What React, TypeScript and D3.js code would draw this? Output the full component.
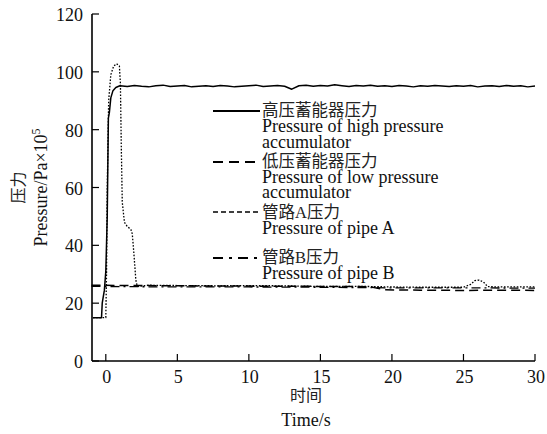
import * as d3 from 'd3'

const W = 547
const H = 434
const MARGIN = { left: 92, right: 12, top: 14, bottom: 73 }
const SERIF = "'Liberation Serif', 'Noto Sans CJK SC', serif"

const X_TICKS = [0, 5, 10, 15, 20, 25, 30]
const Y_TICKS = [0, 20, 40, 60, 80, 100, 120]

// high pressure accumulator: start-up part, then the flat noisy tail
const highTime = [-0.9, -0.3, -0.25, -0.1, 0, 0.1, 0.18, 0.25, 0.35, 0.5, 0.7, 0.9, 1.0]
const highValue = [15, 15, 20, 24.5, 31, 50, 84, 86, 91, 93.5, 94.6, 95, 95.2]
const highTailTime = d3.range(1.5, 30.01, 0.5)
const highTailValue = [
  94.9, 95.3, 95.0, 94.8, 95.2, 95.4, 94.9, 95.1, 95.3, 94.8,
  95.0, 95.2, 94.9, 95.3, 95.1, 94.8, 95.0, 95.2, 95.4, 94.9,
  95.1, 95.3, 95.0, 94.0, 95.2, 95.4, 95.0, 95.3, 95.1, 95.5,
  95.2, 94.9, 95.3, 95.1, 95.4, 95.0, 95.2, 94.9, 95.3, 95.1,
  94.8, 95.2, 95.0, 95.3, 95.1, 94.9, 95.2, 95.0, 95.3, 94.8,
  95.1, 95.2, 94.9, 95.3, 95.0, 95.2, 94.8, 95.1,
]

const lowTime = [-1, 5, 10, 15, 18.5, 19.5, 22, 25, 28, 30]
const lowValue = [26.2, 26, 25.9, 25.8, 25.7, 24.6, 24.5, 24.4, 24.5, 24.4]

const pipeATime = [
  -0.9, 0.0, 0.05, 0.1, 0.2, 0.35, 0.55, 0.75, 0.95, 1.02,
  1.08, 1.15, 1.3, 1.5, 1.75, 1.85, 1.95, 2.1, 2.2, 3,
  5, 8, 10, 12, 15, 18, 20, 22, 25, 25.5,
  25.8, 26.1, 26.4, 26.7, 28, 30,
]
const pipeAValue = [
  15, 15, 30, 60, 90, 99, 102, 102.8, 102, 96,
  75, 55, 48, 46.5, 45.5, 44, 38, 28, 25.8, 26.2,
  26.1, 26.0, 26.1, 26.0, 25.8, 25.8, 25.6, 25.5, 25.5, 26.5,
  27.8, 28.0, 27.3, 25.7, 25.6, 25.6,
]

const pipeBTime = [-1, 5, 10, 15, 20, 25, 30]
const pipeBValue = [25.8, 25.6, 25.6, 25.5, 25.3, 25.3, 25.2]

type Pt = [number, number]
const zip = (t: number[], v: number[]): Pt[] => t.map((x, i) => [x, v[i]])

const SERIES = [
  {
    id: 'high',
    zh: '高压蓄能器压力',
    en: ['Pressure of high pressure', 'accumulator'],
    points: zip(highTime, highValue).concat(zip(highTailTime, highTailValue)),
    dash: null as string | null,
    width: 1.5,
  },
  {
    id: 'low',
    zh: '低压蓄能器压力',
    en: ['Pressure of low pressure', 'accumulator'],
    points: zip(lowTime, lowValue),
    dash: '9 5',
    width: 1.5,
  },
  {
    id: 'pipeA',
    zh: '管路A压力',
    en: ['Pressure of pipe A'],
    points: zip(pipeATime, pipeAValue),
    dash: '1.6 1.6',
    width: 1.3,
  },
  {
    id: 'pipeB',
    zh: '管路B压力',
    en: ['Pressure of pipe B'],
    points: zip(pipeBTime, pipeBValue),
    dash: '9 4 2 4',
    width: 1.3,
  },
]

// legend rows: y of the line sample and of each text baseline
const LEGEND_LINE_Y = [111, 162, 212, 258]
const LEGEND_ZH_Y = [116, 167, 218, 263]
const LEGEND_EN_Y = [[132, 148], [183, 198], [234], [279]]
const LEGEND_DASH = [null, '10 6', '5 3', '10 6 3 6']

export default function App() {
  const x = d3.scaleLinear().domain([-1, 30]).range([91.5, W - MARGIN.right])
  const y = d3.scaleLinear().domain([0, 120]).range([H - MARGIN.bottom, MARGIN.top])
  const line = d3
    .line<Pt>()
    .x((d) => x(d[0]))
    .y((d) => y(d[1]))

  const x0 = MARGIN.left
  const y0 = H - MARGIN.bottom

  return (
    <svg
      width={W}
      height={H}
      style={{ position: 'absolute', left: 0, top: 0, background: '#fff' }}
      fontFamily={SERIF}
    >
      {SERIES.map((s) => (
        <path
          key={s.id}
          d={line(s.points) ?? ''}
          fill="none"
          stroke="#000"
          strokeWidth={s.width}
          strokeDasharray={s.dash ?? undefined}
          strokeLinejoin="round"
        />
      ))}

      {/* axes */}
      <line x1={x0} x2={x0} y1={MARGIN.top} y2={y0} stroke="#000" strokeWidth={1.6} />
      <line x1={x0} x2={W - MARGIN.right} y1={y0} y2={y0} stroke="#000" strokeWidth={1.6} />
      {X_TICKS.map((t) => (
        <g key={'x' + t}>
          <line x1={x(t)} x2={x(t)} y1={y0} y2={y0 - 7} stroke="#000" strokeWidth={1.2} />
          <text x={x(t) + 1} y={y0 + 22} textAnchor="middle" fontSize={18} fill="#111">
            {t}
          </text>
        </g>
      ))}
      {Y_TICKS.map((t) => (
        <g key={'y' + t}>
          <line x1={x0} x2={x0 + 7} y1={y(t)} y2={y(t)} stroke="#000" strokeWidth={1.2} />
          <text x={x0 - 9} y={y(t) + 7} textAnchor="end" fontSize={18} fill="#111">
            {t}
          </text>
        </g>
      ))}

      {/* axis titles */}
      <text x={306} y={401} textAnchor="middle" fontSize={16} fill="#222">
        时间
      </text>
      <text x={306} y={426} textAnchor="middle" fontSize={18} fill="#111">
        Time/s
      </text>
      <text
        transform={`translate(24,${(MARGIN.top + y0) / 2}) rotate(-90)`}
        textAnchor="middle"
        fontSize={16}
        fill="#222"
      >
        压力
      </text>
      <text
        transform={`translate(47,${(MARGIN.top + y0) / 2}) rotate(-90)`}
        textAnchor="middle"
        fontSize={18}
        fill="#111"
      >
        Pressure/Pa×10<tspan dy={-7} fontSize={12}>5</tspan>
      </text>

      {/* legend */}
      {SERIES.map((s, i) => (
        <g key={'lg' + s.id}>
          <line
            x1={213}
            x2={260}
            y1={LEGEND_LINE_Y[i]}
            y2={LEGEND_LINE_Y[i]}
            stroke="#000"
            strokeWidth={i === 2 ? 1.6 : 2.2}
            strokeDasharray={LEGEND_DASH[i] ?? undefined}
          />
          <text x={262} y={LEGEND_ZH_Y[i]} fontSize={16.5} fill="#222">
            {s.zh}
          </text>
          {s.en.map((e, j) => (
            <text key={j} x={262} y={LEGEND_EN_Y[i][j]} fontSize={18} fill="#111">
              {e}
            </text>
          ))}
        </g>
      ))}
    </svg>
  )
}
